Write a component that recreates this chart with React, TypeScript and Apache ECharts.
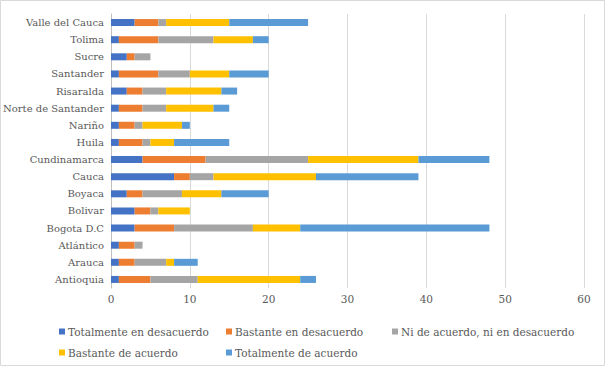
import React, { useEffect, useRef } from "react";
import * as echarts from "echarts";

const categories = [
  "Antioquia", "Arauca", "Atlántico", "Bogota D.C", "Bolivar", "Boyaca", "Cauca",
  "Cundinamarca", "Huila", "Nariño", "Norte de Santander", "Risaralda", "Santander",
  "Sucre", "Tolima", "Valle del Cauca",
];

const totalDesacuerdo = [1, 1, 1, 3, 3, 2, 8, 4, 1, 1, 1, 2, 1, 2, 1, 3];
const bastanteDesacuerdo = [4, 2, 2, 5, 2, 2, 2, 8, 3, 2, 3, 2, 5, 1, 5, 3];
const niNi = [6, 4, 1, 10, 1, 5, 3, 13, 1, 1, 3, 3, 4, 2, 7, 1];
const bastanteAcuerdo = [13, 1, 0, 6, 4, 5, 13, 14, 3, 5, 6, 7, 5, 0, 5, 8];
const totalAcuerdo = [2, 3, 0, 24, 0, 6, 13, 9, 7, 1, 2, 2, 5, 0, 2, 10];

const seriesNames = [
  "Totalmente en desacuerdo",
  "Bastante en desacuerdo",
  "Ni de acuerdo, ni en desacuerdo",
  "Bastante de acuerdo",
  "Totalmente de acuerdo",
];
const seriesData = [totalDesacuerdo, bastanteDesacuerdo, niNi, bastanteAcuerdo, totalAcuerdo];
const colors = ["#4472C4", "#ED7D31", "#A5A5A5", "#FFC000", "#5B9BD5"];
const xTicks = [0, 10, 20, 30, 40, 50, 60];

const FONT = "DejaVu Serif";

export default function App() {
  const ref = useRef<HTMLDivElement>(null);
  useEffect(() => {
    if (!ref.current) return;
    const chart = echarts.init(ref.current, null, { renderer: "svg" });
    const legendPos = [
      { left: 54, top: 321 },
      { left: 221, top: 321 },
      { left: 387, top: 321 },
      { left: 54, top: 342 },
      { left: 221, top: 342 },
    ];
    const txt = (size: number) => ({ fontFamily: FONT, fontSize: size, color: "#595959" });
    chart.setOption({
      animation: false,
      backgroundColor: "#ffffff",
      textStyle: { fontFamily: FONT },
      graphic: [
        {
          type: "rect",
          shape: { x: 0.5, y: 0.5, width: 604, height: 365 },
          style: { fill: "none", stroke: "#D9D9D9", lineWidth: 1 },
          silent: true,
        },
      ],
      grid: {
        left: 111,
        right: 21,
        top: 14,
        bottom: 78,
        containLabel: false,
        outerBoundsMode: "none",
      },
      legend: seriesNames.map((n, i) => ({
        data: [n],
        left: legendPos[i].left,
        top: legendPos[i].top,
        itemWidth: 6,
        itemHeight: 6,
        icon: "rect",
        itemGap: 4,
        textStyle: { ...txt(10.5), padding: [0, 0, 0, -2] },
      })),
      xAxis: {
        type: "value",
        min: xTicks[0],
        max: xTicks[xTicks.length - 1],
        interval: 10,
        axisLine: { show: false },
        axisTick: { show: false },
        axisLabel: { ...txt(10.5), margin: 5 },
        splitLine: { show: true, lineStyle: { color: "#D9D9D9", width: 1 } },
      },
      yAxis: {
        type: "category",
        data: categories,
        axisLine: { show: true, lineStyle: { color: "#BFBFBF" } },
        axisTick: { show: false },
        axisLabel: { ...txt(10), margin: 7 },
      },
      series: seriesNames.map((n, i) => ({
        name: n,
        type: "bar",
        stack: "total",
        barWidth: 7,
        data: seriesData[i],
        itemStyle: { color: colors[i] },
      })),
    });
    return () => chart.dispose();
  }, []);
  return (
    <div
      ref={ref}
      style={{ width: 605, height: 366, position: "absolute", left: 0, top: 0 }}
    />
  );
}
